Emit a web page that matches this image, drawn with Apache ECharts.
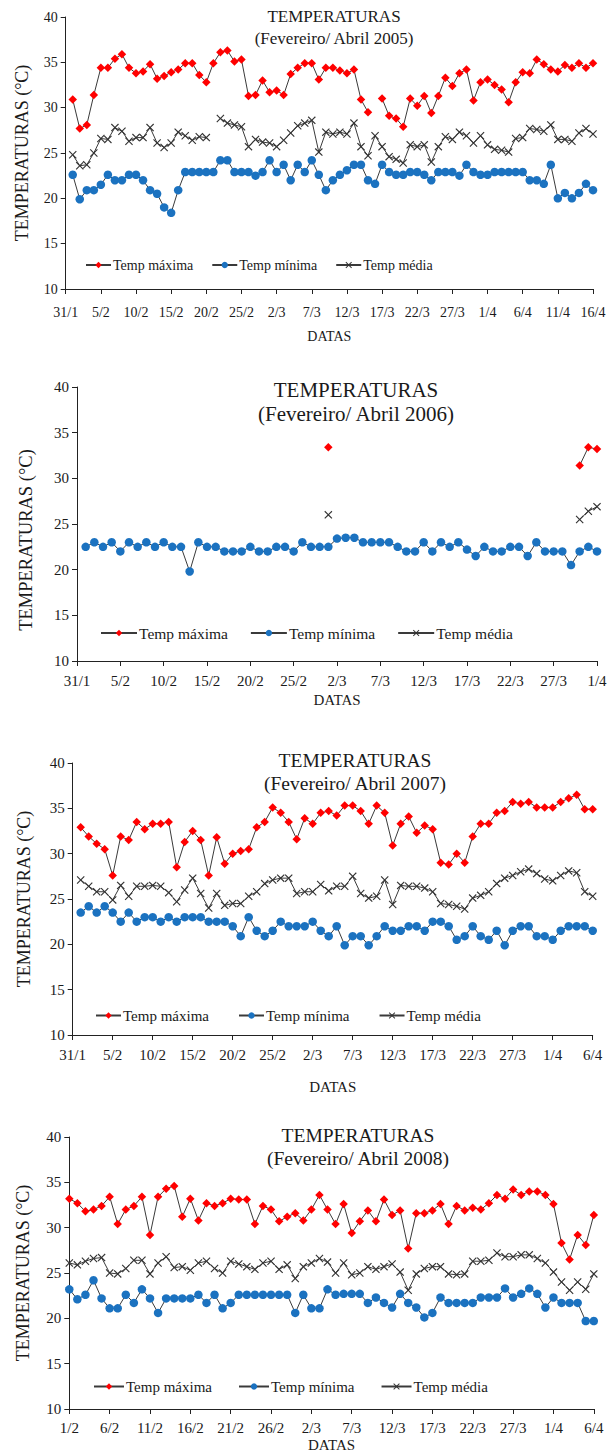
<!DOCTYPE html>
<html>
<head>
<meta charset="utf-8">
<script src="https://cdn.jsdelivr.net/npm/echarts@6/dist/echarts.min.js"></script>
<style>
  html, body { margin: 0; padding: 0; background: #ffffff; }
  #chart { width: 611px; height: 1455px; }
</style>
</head>
<body>
<div id="chart"></div>
<script>
// ---- daily temperatures, February to April ----
// Each array is aligned with the date categories of its year (first slot = first date on the axis).

const max2005 = [null,
  30.9, 27.7, 28.1, 31.4, 34.4, 34.4, 35.4, 35.9, 34.4, 33.8,
  34.0, 34.8, 33.2, 33.5, 33.9, 34.2, 34.9, 34.9, 33.6, 32.8,
  34.9, 36.1, 36.3, 35.1, 35.3, 31.3, 31.4, 33.0, 31.7, 31.9,
  31.4, 33.7, 34.4, 34.9, 34.9, 33.1, 34.4, 34.4, 34.1, 33.8,
  34.2, 30.9, 29.5, null, 31.0, 29.1, 28.8, 27.9, 31.0, 30.2,
  31.3, 29.4, 31.3, 33.3, 32.4, 33.8, 34.2, 30.8, 32.8, 33.1,
  32.5, 32.0, 30.6, 32.8, 33.9, 33.8, 35.3, 34.8, 34.2, 34.0,
  34.7, 34.4, 34.9, 34.4, 34.9];
const min2005 = [null,
  22.6, 19.9, 20.9, 20.9, 21.5, 22.6, 22.0, 22.0, 22.6, 22.6,
  22.0, 20.9, 20.5, 19.0, 18.4, 20.9, 22.9, 22.9, 22.9, 22.9,
  22.9, 24.2, 24.2, 22.9, 22.9, 22.9, 22.5, 22.9, 24.2, 22.9,
  23.7, 22.0, 23.7, 22.9, 24.2, 22.6, 20.9, 22.0, 22.6, 23.1,
  23.7, 23.7, 22.0, 21.6, 23.7, 22.9, 22.6, 22.6, 22.9, 22.9,
  22.6, 22.0, 22.9, 22.9, 22.9, 22.5, 23.7, 22.9, 22.6, 22.6,
  22.9, 22.9, 22.9, 22.9, 22.9, 22.0, 22.0, 21.6, 23.7, 20.0,
  20.6, 20.0, 20.6, 21.6, 20.9];
const avg2005 = [null,
  24.8, 23.6, 23.7, 25.0, 26.6, 26.5, 27.8, 27.4, 26.3, 26.7,
  26.7, 27.8, 26.1, 25.6, 26.1, 27.3, 26.9, 26.4, 26.8, 26.7,
  null, 28.8, 28.3, 28.1, 27.9, 25.7, 26.5, 26.2, 26.1, 25.7,
  26.4, 27.2, 28.0, 28.3, 28.6, 25.1, 27.3, 27.1, 27.3, 27.1,
  28.3, 25.7, 24.7, 26.9, 25.7, 24.6, 24.3, 23.9, 25.9, 25.7,
  25.9, 24.0, 25.7, 26.8, 26.5, 27.3, 26.9, 26.1, 26.9, 25.9,
  25.4, 25.3, 25.1, 26.6, 26.7, 27.7, 27.6, 27.4, 28.1, 26.5,
  26.5, 26.3, 27.2, 27.7, 27.1];

const max2006 = [null,
  null, null, null, null, null, null, null, null, null, null,
  null, null, null, null, null, null, null, null, null, null,
  null, null, null, null, null, null, null, null, 33.4, null,
  null, null, null, null, null, null, null, null, null, null,
  null, null, null, null, null, null, null, null, null, null,
  null, null, null, null, null, null, null, 31.4, 33.4, 33.2];
const min2006 = [null,
  22.5, 23.0, 22.5, 23.0, 22.0, 23.0, 22.5, 23.0, 22.5, 23.0,
  22.5, 22.5, 19.8, 23.0, 22.5, 22.5, 22.0, 22.0, 22.0, 22.5,
  22.0, 22.0, 22.5, 22.5, 22.0, 23.0, 22.5, 22.5, 22.5, 23.4,
  23.5, 23.5, 23.0, 23.0, 23.0, 23.0, 22.5, 22.0, 22.0, 23.0,
  22.0, 23.0, 22.5, 23.0, 22.2, 21.5, 22.5, 22.0, 22.0, 22.5,
  22.5, 21.5, 23.0, 22.0, 22.0, 22.0, 20.5, 22.0, 22.5, 22.0];
const avg2006 = [null,
  null, null, null, null, null, null, null, null, null, null,
  null, null, null, null, null, null, null, null, null, null,
  null, null, null, null, null, null, null, null, 26.0, null,
  null, null, null, null, null, null, null, null, null, null,
  null, null, null, null, null, null, null, null, null, null,
  null, null, null, null, null, null, null, 25.5, 26.4, 26.9];

const max2007 = [null,
  32.9, 31.9, 31.1, 30.5, 27.6, 31.9, 31.5, 33.5, 32.7, 33.3,
  33.3, 33.5, 28.5, 31.3, 32.5, 31.5, 27.6, 31.8, 28.9, 30.0,
  30.3, 30.5, 32.9, 33.5, 35.1, 34.5, 33.5, 31.6, 33.9, 33.3,
  34.5, 34.7, 34.2, 35.3, 35.3, 34.7, 33.3, 35.3, 34.5, 30.9,
  33.3, 34.1, 32.3, 33.1, 32.7, 29.0, 28.8, 30.0, 29.0, 31.9,
  33.3, 33.3, 34.5, 34.7, 35.7, 35.5, 35.7, 35.1, 35.1, 35.1,
  35.7, 36.1, 36.5, 34.9, 34.9];
const min2007 = [null,
  23.5, 24.2, 23.5, 24.2, 23.5, 22.5, 23.5, 22.5, 23.0, 23.0,
  22.5, 23.0, 22.5, 23.0, 23.0, 23.0, 22.5, 22.5, 22.5, 22.0,
  20.9, 23.0, 21.5, 20.9, 21.5, 22.5, 22.0, 22.0, 22.0, 22.5,
  21.5, 20.9, 22.0, 19.9, 20.9, 20.9, 19.9, 20.9, 22.0, 21.5,
  21.5, 22.0, 22.0, 21.5, 22.5, 22.5, 22.0, 20.5, 20.9, 22.0,
  20.9, 20.5, 21.5, 19.9, 21.5, 22.0, 22.0, 20.9, 20.9, 20.5,
  21.5, 22.0, 22.0, 22.0, 21.5];
const avg2007 = [null,
  27.1, 26.4, 25.8, 25.8, 24.9, 26.5, 25.3, 26.4, 26.4, 26.5,
  26.4, 25.7, 24.7, 26.0, 27.3, 25.6, 24.0, 25.6, 24.3, 24.5,
  24.5, 25.3, 25.8, 26.7, 27.1, 27.3, 27.3, 25.6, 25.8, 25.8,
  26.6, 25.9, 26.4, 26.4, 27.5, 25.6, 25.1, 25.3, 27.1, 24.4,
  26.5, 26.4, 26.4, 26.2, 25.8, 24.5, 24.4, 24.2, 23.9, 25.1,
  25.4, 25.8, 26.7, 27.3, 27.6, 28.0, 28.3, 27.8, 27.2, 27.0,
  27.6, 28.1, 27.9, 25.8, 25.3];

const max2008 = [
  33.2, 32.7, 31.8, 32.0, 32.4, 33.4, 30.4, 32.0, 32.4, 33.4,
  29.2, 33.4, 34.3, 34.6, 31.2, 33.2, 30.8, 32.7, 32.4, 32.7,
  33.2, 33.1, 33.1, 30.4, 32.4, 32.0, 30.7, 31.2, 31.6, 30.8,
  32.0, 33.6, 32.0, 30.4, 32.6, 29.4, 30.7, 31.9, 30.7, 33.1,
  31.4, 31.9, 27.7, 31.6, 31.6, 31.9, 32.6, 30.4, 32.4, 31.9,
  32.2, 32.0, 32.7, 33.6, 33.2, 34.2, 33.6, 34.0, 34.0, 33.6,
  32.6, 28.3, 26.5, 29.2, 28.1, 31.4];
const min2008 = [
  23.2, 22.1, 22.6, 24.2, 22.2, 21.1, 21.1, 22.6, 21.7, 23.2,
  22.2, 20.6, 22.2, 22.2, 22.2, 22.2, 22.6, 21.7, 22.6, 21.1,
  21.7, 22.6, 22.6, 22.6, 22.6, 22.6, 22.6, 22.6, 20.6, 22.6,
  21.1, 21.1, 23.2, 22.6, 22.7, 22.7, 22.7, 21.7, 22.3, 21.7,
  21.2, 22.7, 21.7, 21.2, 20.1, 20.6, 22.3, 21.7, 21.7, 21.7,
  21.7, 22.3, 22.3, 22.3, 23.3, 22.3, 22.7, 23.3, 22.7, 21.2,
  22.3, 21.7, 21.7, 21.7, 19.7, 19.7];
const avg2008 = [
  26.1, 25.9, 26.3, 26.6, 26.7, 25.0, 24.9, 25.5, 26.4, 26.4,
  24.9, 26.1, 26.8, 25.6, 25.7, 25.3, 26.1, 26.3, 25.5, 25.0,
  26.3, 26.0, 25.7, 25.4, 26.1, 26.3, 25.4, 25.9, 24.4, 25.7,
  26.1, 26.6, 26.2, 25.0, 26.1, 24.8, 25.0, 25.7, 25.4, 25.7,
  26.0, 25.1, 23.1, 24.9, 25.5, 25.7, 25.7, 24.9, 24.8, 24.9,
  26.3, 26.3, 26.4, 27.2, 26.8, 26.8, 27.0, 27.0, 26.6, 26.1,
  25.1, 24.0, 23.1, 24.0, 23.2, 24.9];

// axis text
const seriesNames = ['Temp máxima', 'Temp mínima', 'Temp média'];
const yTicks = [10, 15, 20, 25, 30, 35, 40];
const chartTitle = 'TEMPERATURAS';
const periodLabels = ['(Fevereiro/ Abril 2005)', '(Fevereiro/ Abril 2006)',
                      '(Fevereiro/ Abril 2007)', '(Fevereiro/ Abril 2008)'];
const yAxisName = 'TEMPERATURAS (°C)';
const xAxisName = 'DATAS';

// Daily "d/m" categories from a start date
function dayCategories(day, month, count, year) {
  const out = [];
  const d = new Date(Date.UTC(year, month - 1, day));
  for (let i = 0; i < count; i++) {
    out.push(d.getUTCDate() + '/' + (d.getUTCMonth() + 1));
    d.setUTCDate(d.getUTCDate() + 1);
  }
  return out;
}
const dates2005 = dayCategories(31, 1, 76, 2005);
const dates2006 = dayCategories(31, 1, 61, 2006);
const dates2007 = dayCategories(31, 1, 66, 2007);
const dates2008 = dayCategories(1, 2, 66, 2008);

// ---- layout of the four stacked panels ----
const panels = [
  { dates: dates2005, data: [max2005, min2005, avg2005],
    grid: { left: 65.7, top: 17, width: 527.3, height: 272 },
    titleX: 334, titleY: 18, subY: 40, titleSize: 17,
    legendLeft: 85, legendY: 265, legendSize: 14, legendIconW: 25, legendGap: 18,
    axisSize: 14, xLabelSize: 14, yNameGap: 35, xNameGap: 40, xLabelMargin: 16, nameSize: 14,
    yNameSize: 18, yNameShift: 0 },
  { dates: dates2006, data: [max2006, min2006, avg2006],
    grid: { left: 77, top: 387, width: 520, height: 274 },
    titleX: 356, titleY: 392, subY: 416, titleSize: 21,
    legendLeft: 100, legendY: 632, legendSize: 15.5, legendIconW: 36, legendGap: 22,
    axisSize: 15, xLabelSize: 15, yNameGap: 42, xNameGap: 31, xLabelMargin: 12, nameSize: 15,
    yNameSize: 18.5, yNameShift: 16 },
  { dates: dates2007, data: [max2007, min2007, avg2007],
    grid: { left: 72.7, top: 763, width: 520, height: 272 },
    titleX: 355, titleY: 762, subY: 785, titleSize: 19.5,
    legendLeft: 95, legendY: 1015, legendSize: 15, legendIconW: 25, legendGap: 29,
    axisSize: 15, xLabelSize: 15, yNameGap: 40, xNameGap: 44, xLabelMargin: 12, nameSize: 15,
    yNameSize: 18, yNameShift: 0 },
  { dates: dates2008, data: [max2008, min2008, avg2008],
    grid: { left: 69.3, top: 1137, width: 524.5, height: 272 },
    titleX: 358, titleY: 1137, subY: 1160, titleSize: 19.5,
    legendLeft: 93, legendY: 1386, legendSize: 15, legendIconW: 30, legendGap: 26,
    axisSize: 15, xLabelSize: 15, yNameGap: 37, xNameGap: 28, xLabelMargin: 11, nameSize: 15,
    yNameSize: 18, yNameShift: 0 }
];

const FONT = 'Liberation Serif, Times New Roman, serif';
const LINE = '#3a3a3a';
const AXIS = '#222222';
const TEXT = '#1a1a1a';
const markStyles = [
  { symbol: 'diamond', symbolSize: 8.5, color: '#ff0000' },
  { symbol: 'circle', symbolSize: 8.5, color: '#1b72c0' },
  { symbol: 'path://M0,1L1,0L5,4L9,0L10,1L6,5L10,9L9,10L5,6L1,10L0,9L4,5Z', symbolSize: 8, color: '#333333' }
];

const option = {
  backgroundColor: '#ffffff',
  animation: false,
  textStyle: { fontFamily: FONT, fontWeight: 'normal' },
  title: [], grid: [], xAxis: [], yAxis: [], legend: [], series: []
};

panels.forEach((p, i) => {
  const tStyle = { fontFamily: FONT, fontSize: p.titleSize, fontWeight: 'normal', color: TEXT };
  option.title.push({ text: chartTitle, left: p.titleX, top: p.titleY - p.titleSize * 0.58,
                      textAlign: 'center', padding: 0, textStyle: tStyle });
  option.title.push({ text: periodLabels[i], left: p.titleX, top: p.subY - p.titleSize * 0.58,
                      textAlign: 'center', padding: 0, textStyle: tStyle });
  option.grid.push(Object.assign({ containLabel: false }, p.grid));
  option.xAxis.push({
    type: 'category', gridIndex: i, data: p.dates, boundaryGap: false,
    name: xAxisName, nameLocation: 'middle', nameGap: p.xNameGap,
    nameTextStyle: { fontFamily: FONT, fontSize: p.nameSize, color: TEXT },
    axisLine: { show: true, lineStyle: { color: AXIS, width: 1 } },
    axisTick: { show: true, interval: 4, length: 5, lineStyle: { color: AXIS } },
    axisLabel: { interval: 4, margin: p.xLabelMargin, fontFamily: FONT, fontSize: p.xLabelSize, color: TEXT },
    splitLine: { show: false }
  });
  option.yAxis.push({
    type: 'value', gridIndex: i, min: yTicks[0], max: yTicks[yTicks.length - 1], interval: 5,
    name: yAxisName, nameLocation: 'middle', nameRotate: 90, nameGap: p.yNameGap,
    // right padding on the rotated name moves it down along the axis
    nameTextStyle: { fontFamily: FONT, fontSize: p.yNameSize, color: TEXT,
                     padding: [0, p.yNameShift * 2, 0, 0] },
    axisLine: { show: true, lineStyle: { color: AXIS, width: 1 } },
    axisTick: { show: true, length: 5, lineStyle: { color: AXIS } },
    axisLabel: { margin: 8, fontFamily: FONT, fontSize: p.axisSize, color: TEXT },
    splitLine: { show: false }
  });
  option.legend.push({
    left: p.legendLeft, top: p.legendY - 7, orient: 'horizontal', padding: 0,
    itemWidth: p.legendIconW, itemHeight: 8, itemGap: p.legendGap,
    textStyle: { fontFamily: FONT, fontSize: p.legendSize, color: TEXT, padding: [0, 0, 0, -3] },
    data: seriesNames.map(n => ({ name: n })),
    selectedMode: false
  });
  seriesNames.forEach((name, k) => {
    const m = markStyles[k];
    option.series.push({
      type: 'line', name: name, xAxisIndex: i, yAxisIndex: i,
      data: p.data[k],
      connectNulls: false,
      showAllSymbol: true,
      symbol: m.symbol, symbolSize: m.symbolSize,
      itemStyle: { color: m.color, borderColor: m.color, borderWidth: 0 },
      lineStyle: { color: LINE, width: 1 },
      emphasis: { disabled: true },
      z: 2 + k
    });
  });
});

const chart = echarts.init(document.getElementById('chart'), null, { renderer: 'svg', width: 611, height: 1455 });
chart.setOption(option);
</script>
</body>
</html>
